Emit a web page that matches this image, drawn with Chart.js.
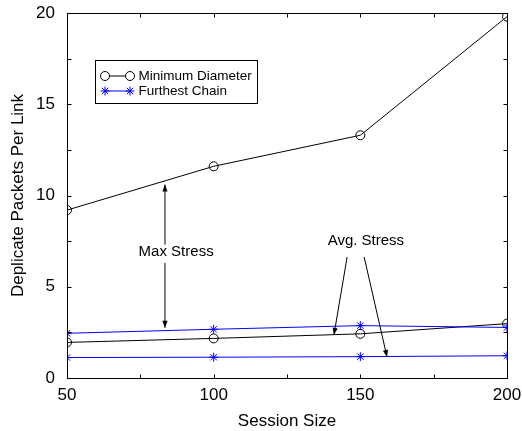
<!DOCTYPE html>
<html>
<head>
<meta charset="utf-8">
<script src="https://cdn.jsdelivr.net/npm/chart.js@4/dist/chart.umd.min.js"></script>
<style>
  html, body { margin: 0; padding: 0; background: #fff; }
  #wrap { width: 522px; height: 431px; }
</style>
</head>
<body>
<div id="wrap"><canvas id="c" width="522" height="431"></canvas></div>
<script>
// Session sizes on the x axis
const sessionSizes = [50, 100, 150, 200];
// Duplicate packets per link
const minDiameterMax = [9.2, 11.6, 13.3, 19.8];
const minDiameterAvg = [1.95, 2.17, 2.42, 2.98];
const furthestChainMax = [2.45, 2.67, 2.87, 2.77];
const furthestChainAvg = [1.12, 1.14, 1.17, 1.22];

const seriesNames = ['Minimum Diameter', 'Furthest Chain'];
const xTickLabels = [50, 100, 150, 200];
const yTickLabels = [0, 5, 10, 15, 20];
const xMinorStep = 25;
const yMinorStep = 2.5;

const xTitle = 'Session Size';
const yTitle = 'Deplicate Packets Per Link';

// Annotation texts and arrows, in data coordinates
const annotationTexts = [
  { text: 'Max Stress', x: 87.2, y: 6.9 },
  { text: 'Avg. Stress', x: 151.9, y: 7.5 }
];
const annotationArrows = [
  { from: [83.4, 7.3], to: [83.4, 10.6] },
  { from: [83.4, 6.3], to: [83.4, 2.75] },
  { from: [145.5, 6.63], to: [141, 2.36] },
  { from: [151.3, 6.63], to: [159.1, 1.15] }
];

const FONT = '"Liberation Sans", Arial, Helvetica, sans-serif';
const BLACK = '#000000';
const BLUE = '#0000ff';

function pts(ys) { return sessionSizes.map((x, i) => ({ x, y: ys[i] })); }

function blackSeries(ys, label) {
  return {
    label, data: pts(ys),
    borderColor: BLACK, borderWidth: 1,
    pointStyle: 'circle', pointRadius: 4.5,
    pointBorderColor: BLACK, pointBackgroundColor: 'rgba(0,0,0,0)', pointBorderWidth: 1,
    tension: 0
  };
}
function blueSeries(ys, label) {
  return {
    label, data: pts(ys),
    borderColor: BLUE, borderWidth: 1,
    pointStyle: 'star', pointRadius: 4.5,
    pointBorderColor: BLUE, pointBackgroundColor: BLUE, pointBorderWidth: 1,
    tension: 0
  };
}

function drawArrowHead(ctx, x1, y1, x2, y2) {
  const ang = Math.atan2(y2 - y1, x2 - x1);
  const len = 7, half = 2.6;
  ctx.beginPath();
  ctx.moveTo(x2, y2);
  ctx.lineTo(x2 - len * Math.cos(ang) + half * Math.sin(ang), y2 - len * Math.sin(ang) - half * Math.cos(ang));
  ctx.lineTo(x2 - len * Math.cos(ang) - half * Math.sin(ang), y2 - len * Math.sin(ang) + half * Math.cos(ang));
  ctx.closePath();
  ctx.fill();
}

// Frame with inward ticks on all sides, annotations and the boxed legend
const framePlugin = {
  id: 'frame',
  afterDatasetsDraw(chart) {
    const { ctx, chartArea: a, scales: { x, y } } = chart;
    ctx.save();
    ctx.strokeStyle = BLACK;
    ctx.fillStyle = BLACK;
    ctx.lineWidth = 1;
    const L = Math.round(a.left) + 0.5, R = Math.round(a.right) + 0.5;
    const T = Math.round(a.top) + 0.5, B = Math.round(a.bottom) + 0.5;
    ctx.strokeRect(L, T, R - L, B - T);
    const tk = 4;
    ctx.beginPath();
    for (let v = x.min; v <= x.max + 1e-9; v += xMinorStep) {
      const px = Math.round(x.getPixelForValue(v)) + 0.5;
      ctx.moveTo(px, B); ctx.lineTo(px, B - tk);
      ctx.moveTo(px, T); ctx.lineTo(px, T + tk);
    }
    for (let v = y.min; v <= y.max + 1e-9; v += yMinorStep) {
      const py = Math.round(y.getPixelForValue(v)) + 0.5;
      ctx.moveTo(L, py); ctx.lineTo(L + tk, py);
      ctx.moveTo(R, py); ctx.lineTo(R - tk, py);
    }
    ctx.stroke();

    // annotations
    ctx.font = '15px ' + FONT;
    ctx.textAlign = 'center';
    ctx.textBaseline = 'middle';
    annotationTexts.forEach(t => {
      ctx.fillText(t.text, x.getPixelForValue(t.x), y.getPixelForValue(t.y));
    });
    annotationArrows.forEach(arw => {
      const x1 = x.getPixelForValue(arw.from[0]), y1 = y.getPixelForValue(arw.from[1]);
      const x2 = x.getPixelForValue(arw.to[0]), y2 = y.getPixelForValue(arw.to[1]);
      ctx.beginPath();
      ctx.moveTo(x1, y1); ctx.lineTo(x2, y2);
      ctx.stroke();
      drawArrowHead(ctx, x1, y1, x2, y2);
    });

    // legend
    const bx = a.left + 28.5, by = a.top + 47.5, bw = 162, bh = 43;
    ctx.fillStyle = '#fff';
    ctx.fillRect(bx, by, bw, bh);
    ctx.strokeStyle = BLACK;
    ctx.strokeRect(bx, by, bw, bh);
    const rows = [
      { name: seriesNames[0], color: BLACK, style: 'circle', cy: by + 15.5 },
      { name: seriesNames[1], color: BLUE, style: 'star', cy: by + 30.5 }
    ];
    rows.forEach(r => {
      const x1 = bx + 9.5, x2 = bx + 34.5;
      ctx.strokeStyle = r.color;
      ctx.lineWidth = 1;
      ctx.beginPath();
      ctx.moveTo(x1, r.cy); ctx.lineTo(x2, r.cy);
      ctx.stroke();
      [x1, x2].forEach(px => {
        Chart.helpers.drawPoint(ctx, {
          pointStyle: r.style, radius: 4.5, borderWidth: 1, rotation: 0
        }, px, r.cy);
      });
      ctx.fillStyle = BLACK;
      ctx.font = '13.5px ' + FONT;
      ctx.textAlign = 'left';
      ctx.textBaseline = 'middle';
      ctx.fillText(r.name, bx + 43, r.cy + 0.5);
    });
    ctx.restore();
  }
};

new Chart(document.getElementById('c'), {
  type: 'line',
  data: {
    datasets: [
      blackSeries(minDiameterMax, seriesNames[0]),
      blueSeries(furthestChainMax, seriesNames[1]),
      blackSeries(minDiameterAvg, seriesNames[0]),
      blueSeries(furthestChainAvg, seriesNames[1])
    ]
  },
  options: {
    responsive: false,
    animation: false,
    events: [],
    layout: { padding: { left: 0, right: 15, top: 13, bottom: 0 } },
    plugins: { legend: { display: false }, tooltip: { enabled: false } },
    scales: {
      x: {
        type: 'linear', min: 50, max: 200,
        afterBuildTicks: s => { s.ticks = xTickLabels.map(v => ({ value: v })); },
        afterFit: s => { s.height = 53; s.paddingLeft = 0; s.paddingRight = 0; },
        grid: { display: false, drawTicks: false },
        border: { display: false },
        ticks: { color: BLACK, font: { family: FONT, size: 17 }, padding: 7, maxRotation: 0 },
        title: { display: true, text: xTitle, color: BLACK, font: { family: FONT, size: 17 }, padding: { top: 0, bottom: -1 } }
      },
      y: {
        type: 'linear', min: 0, max: 20,
        afterBuildTicks: s => { s.ticks = yTickLabels.map(v => ({ value: v })); },
        afterFit: s => { s.width = 67; s.paddingTop = 0; s.paddingBottom = 0; },
        grid: { display: false, drawTicks: false },
        border: { display: false },
        ticks: { color: BLACK, font: { family: FONT, size: 17 }, padding: 12 },
        title: { display: true, text: yTitle, color: BLACK, font: { family: FONT, size: 17 }, padding: { top: 8, bottom: 0 } }
      }
    }
  },
  plugins: [framePlugin]
});
</script>
</body>
</html>
